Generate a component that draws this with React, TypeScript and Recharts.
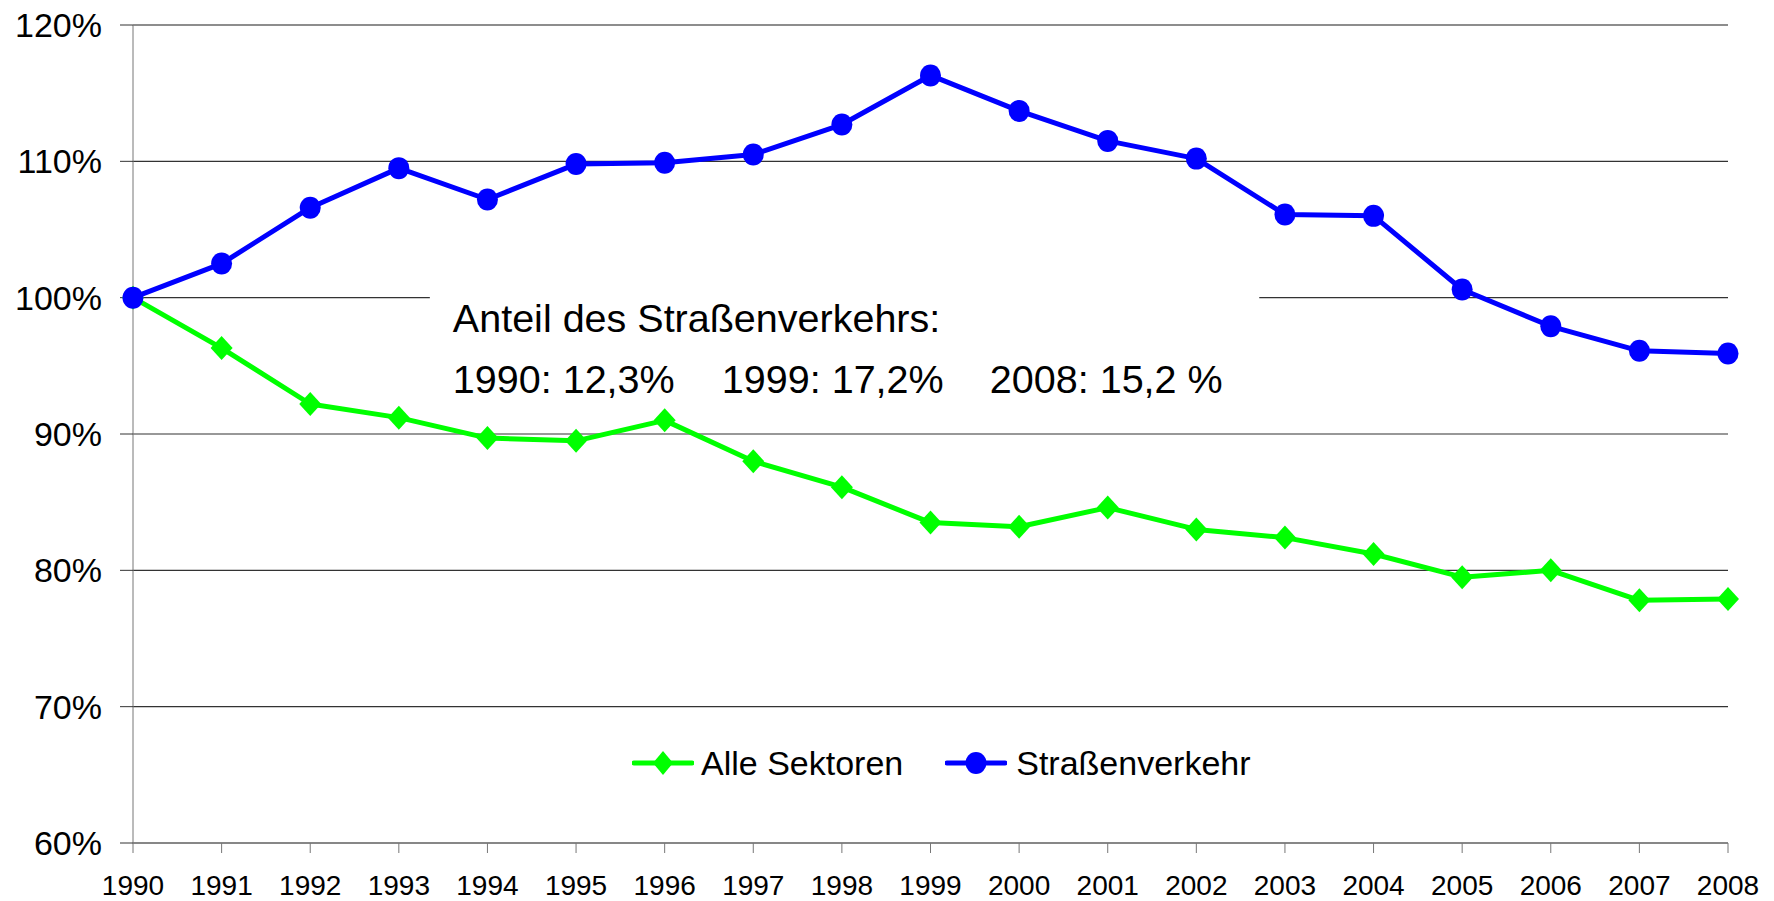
import React from 'react';
import {
    LineChart,
    Line,
    XAxis,
    YAxis,
    CartesianGrid,
    ReferenceArea,
    ReferenceLine,
    Legend
} from 'recharts';

const years = [1990, 1991, 1992, 1993, 1994, 1995, 1996, 1997, 1998, 1999, 2000, 2001, 2002, 2003, 2004, 2005, 2006, 2007, 2008];
const alleSektoren = [100, 96.3, 92.2, 91.2, 89.7, 89.5, 91.0, 88.0, 86.1, 83.5, 83.2, 84.6, 83.0, 82.4, 81.2, 79.5, 80.0, 77.8, 77.9];
const strassenverkehr = [100, 102.5, 106.6, 109.5, 107.2, 109.8, 109.9, 110.5, 112.7, 116.3, 113.7, 111.5, 110.2, 106.1, 106.0, 100.6, 97.9, 96.1, 95.9];
const yTicks = [60, 70, 80, 90, 100, 110, 120];

const seriesNames = ['Alle Sektoren', 'Straßenverkehr'];
const annotationTitle = 'Anteil des Straßenverkehrs:';
const annotationShares = ['1990: 12,3%', '1999: 17,2%', '2008: 15,2 %'];

const data = years.map((year, i) => ({
    year,
    alle: alleSektoren[i],
    strasse: strassenverkehr[i]
}));

const FONT = '"Liberation Sans", Arial, Helvetica, sans-serif';
const GREEN = '#00ff00';
const BLUE = '#0000ff';

const Diamond = (props: any) => {
    const { cx, cy } = props;
    if (cx == null || cy == null) return null;
    return (
        <polygon
            points={`${cx},${cy - 12} ${cx + 11},${cy} ${cx},${cy + 12} ${cx - 11},${cy}`}
            fill={GREEN}
        />
    );
};

const Circle = (props: any) => {
    const { cx, cy } = props;
    if (cx == null || cy == null) return null;
    return <ellipse cx={cx} cy={cy} rx={10.5} ry={11} fill={BLUE} />;
};

// text box over the chart, white background hides part of the 100% gridline
const AnnotationLabel = (props: any) => {
    const vb = props.viewBox || {};
    const x = vb.x ?? 0;
    const y = vb.y ?? 0;
    const offsets = [0, 269, 537];
    return (
        <g fontFamily={FONT} fontSize={39.5} fill="#000">
            <text x={x + 23} y={y + 64}>{annotationTitle}</text>
            {annotationShares.map((s, i) => (
                <text key={s} x={x + 23 + offsets[i]} y={y + 125}>{s}</text>
            ))}
        </g>
    );
};

const CustomLegend = () => (
    <div style={{ display: 'flex', alignItems: 'center', fontFamily: FONT, fontSize: 34, color: '#000', lineHeight: '34px' }}>
        <div style={{ display: 'flex', alignItems: 'center', marginRight: 42 }}>
            <svg width={62} height={30} style={{ marginRight: 7 }}>
                <line x1={2} y1={15} x2={60} y2={15} stroke={GREEN} strokeWidth={5} strokeLinecap="round" />
                <polygon points="31,3 41,15 31,27 21,15" fill={GREEN} />
            </svg>
            <span>{seriesNames[0]}</span>
        </div>
        <div style={{ display: 'flex', alignItems: 'center' }}>
            <svg width={62} height={30} style={{ marginRight: 9 }}>
                <line x1={2} y1={15} x2={60} y2={15} stroke={BLUE} strokeWidth={5} strokeLinecap="round" />
                <ellipse cx={31} cy={15} rx={10.5} ry={11} fill={BLUE} />
            </svg>
            <span>{seriesNames[1]}</span>
        </div>
    </div>
);

export default function App() {
    return (
        <div style={{ width: 1774, height: 901, margin: '-8px 0 0 -8px', background: '#fff' }}>
            <LineChart
                width={1774}
                height={901}
                data={data}
                margin={{ top: 25, right: 46, left: 0, bottom: 0 }}
            >
                <CartesianGrid vertical={false} stroke="#333" strokeWidth={1.2} />
                <ReferenceLine y={120} stroke="#8a8a8a" strokeWidth={1.5} />
                <XAxis
                    dataKey="year"
                    type="number"
                    domain={[1990, 2008]}
                    ticks={years}
                    interval={0}
                    height={58}
                    tickSize={10}
                    tickMargin={22}
                    axisLine={{ stroke: '#777' }}
                    tickLine={{ stroke: '#777' }}
                    tick={{ fill: '#000', fontSize: 28, fontFamily: FONT }}
                />
                <YAxis
                    type="number"
                    domain={[60, 120]}
                    ticks={yTicks}
                    interval={0}
                    width={133}
                    tickSize={13}
                    tickMargin={18}
                    tickFormatter={(v: number) => `${v}%`}
                    axisLine={{ stroke: '#777' }}
                    tickLine={{ stroke: '#333' }}
                    tick={{ fill: '#000', fontSize: 34, fontFamily: FONT }}
                />
                <ReferenceArea
                    x1={1993.35}
                    x2={2002.71}
                    y1={92.1}
                    y2={102.2}
                    fill="#fff"
                    fillOpacity={1}
                    stroke="none"
                    label={<AnnotationLabel />}
                />
                <Legend
                    layout="horizontal"
                    verticalAlign="middle"
                    align="center"
                    content={<CustomLegend />}
                    wrapperStyle={{ position: 'absolute', top: 746, left: 632, width: 700, height: 34 }}
                />
                <Line
                    type="linear"
                    dataKey="alle"
                    name={seriesNames[0]}
                    stroke={GREEN}
                    strokeWidth={5}
                    strokeLinejoin="round"
                    dot={<Diamond />}
                    activeDot={false}
                    isAnimationActive={false}
                />
                <Line
                    type="linear"
                    dataKey="strasse"
                    name={seriesNames[1]}
                    stroke={BLUE}
                    strokeWidth={5}
                    strokeLinejoin="round"
                    dot={<Circle />}
                    activeDot={false}
                    isAnimationActive={false}
                />
            </LineChart>
        </div>
    );
}
